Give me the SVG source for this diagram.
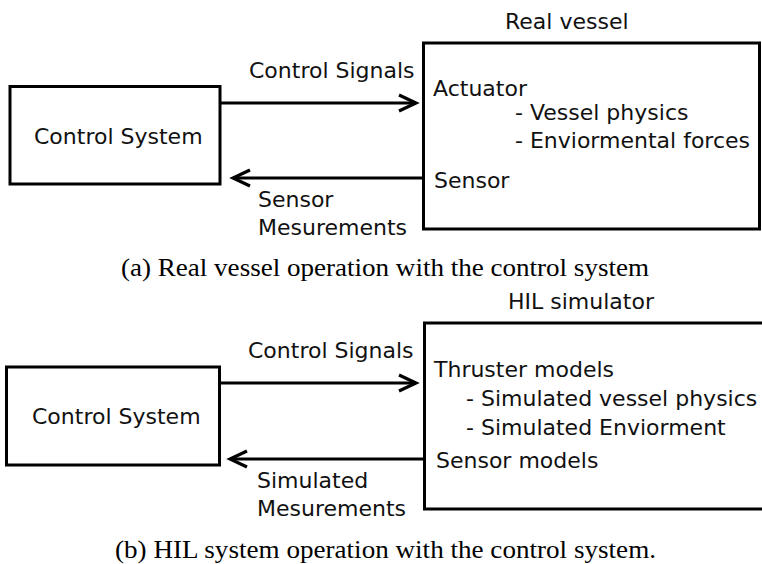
<svg xmlns="http://www.w3.org/2000/svg" width="762" height="564" viewBox="0 0 762 564">
<style>
  .box { fill: #fff; stroke: #000; stroke-width: 3; }
  .lbl { font-family: "DejaVu Sans", Verdana, sans-serif; font-size: 22px; fill: #111; }
  .cap { font-family: "Liberation Serif", "Times New Roman", serif; font-size: 25px; fill: #000; }
  .conn line { stroke: #000; stroke-width: 3; }
  .conn polyline { fill: none; stroke: #000; stroke-width: 3.2; stroke-linejoin: miter; }
</style>
<rect width="762" height="564" fill="#fff"/>

<!-- (a) -->
<g id="control-system-a">
  <rect class="box" x="10" y="86.5" width="210" height="97.5"/>
  <text class="lbl" x="34" y="144">Control System</text>
</g>
<g id="real-vessel">
  <text class="lbl" x="505" y="29">Real vessel</text>
  <rect class="box" x="423.5" y="43" width="336" height="186"/>
  <text class="lbl" x="433" y="96">Actuator</text>
  <text class="lbl" x="515" y="120">- Vessel physics</text>
  <text class="lbl" x="515" y="148">- Enviormental forces</text>
  <text class="lbl" x="434" y="188">Sensor</text>
</g>
<g id="connectors-a" class="conn">
  <line x1="221" y1="103" x2="416" y2="103"/>
  <polyline points="399,95 416,103 399,111"/>
  <line x1="422" y1="178" x2="234" y2="178"/>
  <polyline points="250,170 233,178 250,186"/>
  <text class="lbl" x="249" y="78">Control Signals</text>
  <text class="lbl" x="258" y="207">Sensor</text>
  <text class="lbl" x="258" y="235">Mesurements</text>
</g>
<text class="cap" x="121" y="276" textLength="528" lengthAdjust="spacingAndGlyphs">(a) Real vessel operation with the control system</text>

<!-- (b) -->
<g id="control-system-b">
  <rect class="box" x="6.5" y="367" width="213" height="98"/>
  <text class="lbl" x="32" y="424">Control System</text>
</g>
<g id="hil-simulator">
  <text class="lbl" x="508" y="309">HIL simulator</text>
  <rect class="box" x="424.5" y="323" width="360" height="186"/>
  <text class="lbl" x="434" y="377">Thruster models</text>
  <text class="lbl" x="466" y="406">- Simulated vessel physics</text>
  <text class="lbl" x="466" y="435">- Simulated Enviorment</text>
  <text class="lbl" x="436" y="468">Sensor models</text>
</g>
<g id="connectors-b" class="conn">
  <line x1="221" y1="383" x2="416" y2="383"/>
  <polyline points="399,375 416,383 399,391"/>
  <line x1="423" y1="459" x2="231" y2="459"/>
  <polyline points="247,451 230,459 247,467"/>
  <text class="lbl" x="248" y="358">Control Signals</text>
  <text class="lbl" x="257" y="488">Simulated</text>
  <text class="lbl" x="257" y="516">Mesurements</text>
</g>
<text class="cap" x="115" y="558" textLength="541" lengthAdjust="spacingAndGlyphs">(b) HIL system operation with the control system.</text>
</svg>
